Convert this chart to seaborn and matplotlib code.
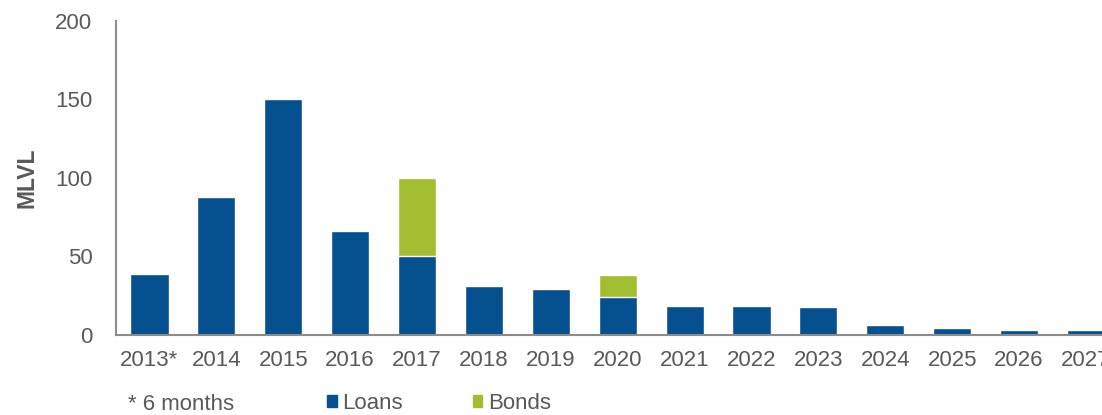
import matplotlib
matplotlib.use("Agg")
import matplotlib.pyplot as plt
import pandas as pd
import seaborn as sns
from matplotlib.patches import Patch

# data (MLVL)
years = ['2013*', '2014', '2015', '2016', '2017', '2018', '2019', '2020',
         '2021', '2022', '2023', '2024', '2025', '2026', '2027']
loans = [39, 88, 150, 66, 50, 31, 29, 24, 18.5, 18.5, 18, 6.5, 4.5, 3, 3]
bonds = [0, 0, 0, 0, 50, 0, 0, 14, 0, 0, 0, 0, 0, 0, 0]

blue = '#05508f'
green = '#a3bd31'
grey = '#595959'

df = pd.DataFrame({'year': years, 'loans': loans, 'bonds': bonds})
df['total'] = df['loans'] + df['bonds']

sns.set_style('white')
plt.rcParams['font.family'] = ['Liberation Sans', 'DejaVu Sans']

fig = plt.figure(figsize=(11.02, 4.15), dpi=100)
ax = fig.add_axes([0.1053, 0.1928, 0.8947, 0.7566])

# stacked: total in green first, loans drawn over it
sns.barplot(data=df, x='year', y='total', color=green, width=0.57,
            saturation=1, ax=ax)
sns.barplot(data=df, x='year', y='loans', color=blue, width=0.57,
            saturation=1, ax=ax)

ax.set_ylim(0, 200)
ax.set_yticks([0, 50, 100, 150, 200])
ax.set_xlim(-0.5, 14.24)
ax.set_xlabel('')
ax.set_ylabel('MLVL', fontsize=16.5, fontweight='bold', color=grey)
ax.yaxis.set_label_coords(-0.079, 0.5)

for s in ['top', 'right']:
    ax.spines[s].set_visible(False)
for s in ['left', 'bottom']:
    ax.spines[s].set_color('#8c8c8c')
    ax.spines[s].set_linewidth(1.5)

ax.tick_params(axis='y', length=0, pad=17, labelsize=16, labelcolor=grey)
ax.tick_params(axis='x', length=0, pad=11, labelsize=16, labelcolor=grey)

fig.text(0.116, 0.012, '* 6 months', fontsize=16, color=grey)

handles = [Patch(color=blue, label='Loans'), Patch(color=green, label='Bonds')]
fig.legend(handles=handles, loc='lower left', bbox_to_anchor=(0.279, -0.046),
           ncol=2, frameon=False, fontsize=16, handlelength=0.42,
           handleheight=0.42, handletextpad=0.25, columnspacing=3.15,
           labelcolor=grey)

fig.savefig('out.png', dpi=100)
